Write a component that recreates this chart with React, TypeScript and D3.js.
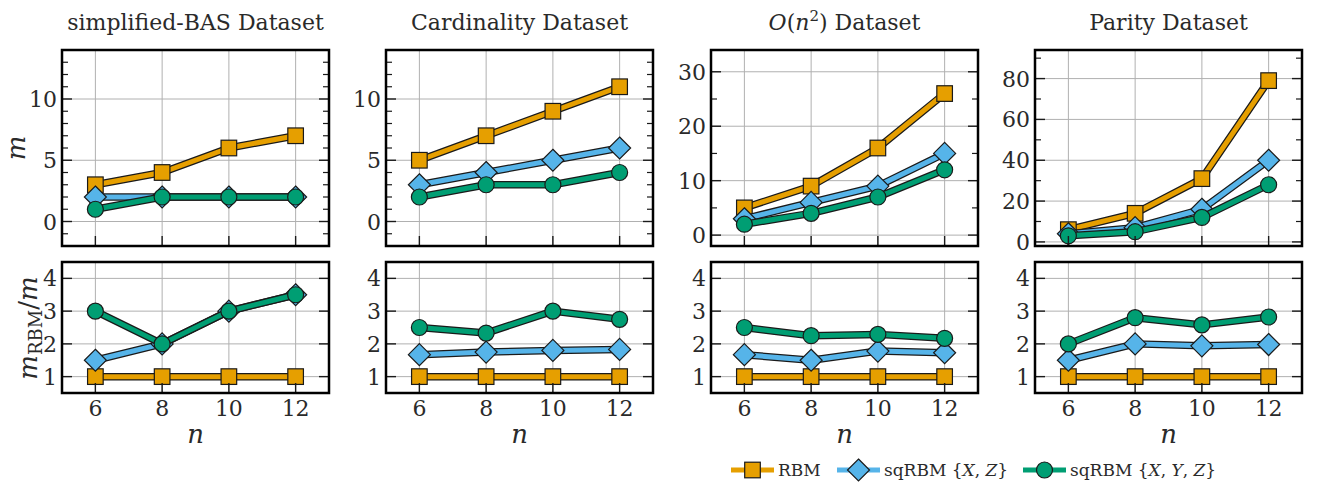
import * as d3 from "d3"
import { useEffect, useRef } from "react"

// n on the x axis, shared by every panel
const nValues = [6, 8, 10, 12]

const titles = ["simplified-BAS", "Cardinality", "O(n2)", "Parity"]

// number of hidden units m (top row)
const basRBM = [3, 4, 6, 7]
const basXZ = [2, 2, 2, 2]
const basXYZ = [1, 2, 2, 2]
const cardRBM = [5, 7, 9, 11]
const cardXZ = [3, 4, 5, 6]
const cardXYZ = [2, 3, 3, 4]
const quadRBM = [5, 9, 16, 26]
const quadXZ = [3, 6, 9, 15]
const quadXYZ = [2, 4, 7, 12]
const parRBM = [6, 14, 31, 79]
const parXZ = [4, 7, 16, 40]
const parXYZ = [3, 5, 12, 28]

// ratio m_RBM / m (bottom row)
const ratioRBM = [1, 1, 1, 1]
const basRatioXZ = [1.5, 2, 3, 3.5]
const basRatioXYZ = [3, 2, 3, 3.5]
const cardRatioXZ = [1.67, 1.75, 1.8, 1.83]
const cardRatioXYZ = [2.5, 2.33, 3, 2.75]
const quadRatioXZ = [1.67, 1.5, 1.78, 1.73]
const quadRatioXYZ = [2.5, 2.25, 2.29, 2.17]
const parRatioXZ = [1.5, 2, 1.94, 1.98]
const parRatioXYZ = [2, 2.8, 2.58, 2.82]

// axis ticks
const topDomains: [number, number][] = [[-2, 14], [-2, 14], [-2, 34], [-2, 94]]
const topMajorTicks = [[0, 5, 10], [0, 5, 10], [0, 10, 20, 30], [0, 20, 40, 60, 80]]
const topMinorStep = [1, 1, 5, 10]
const bottomTicks = [1, 2, 3, 4]

const seriesNames = ["RBM", "sqRBM {X, Z}", "sqRBM {X, Y, Z}"]
const colors = ["#E69F00", "#56B4E9", "#009E73"]
const shapes = ["square", "diamond", "circle"]

const topData = [
    [basRBM, basXZ, basXYZ],
    [cardRBM, cardXZ, cardXYZ],
    [quadRBM, quadXZ, quadXYZ],
    [parRBM, parXZ, parXYZ],
]
const bottomData = [
    [ratioRBM, basRatioXZ, basRatioXYZ],
    [ratioRBM, cardRatioXZ, cardRatioXYZ],
    [ratioRBM, quadRatioXZ, quadRatioXYZ],
    [ratioRBM, parRatioXZ, parRatioXYZ],
]

const FONT = "DejaVu Serif"
const EDGE = "#1a1a1a"
const INK = "#2a2a2a"

function drawMarker(g: any, shape: string, x: number, y: number, fill: string) {
    if (shape === "square") {
        g.append("rect")
            .attr("x", x - 7.8).attr("y", y - 7.8)
            .attr("width", 15.6).attr("height", 15.6)
            .attr("fill", fill).attr("stroke", EDGE).attr("stroke-width", 1.2)
    } else if (shape === "diamond") {
        const r = 11
        g.append("path")
            .attr("d", `M${x},${y - r}L${x + r},${y}L${x},${y + r}L${x - r},${y}Z`)
            .attr("fill", fill).attr("stroke", EDGE).attr("stroke-width", 1.2)
    } else {
        g.append("circle")
            .attr("cx", x).attr("cy", y).attr("r", 8)
            .attr("fill", fill).attr("stroke", EDGE).attr("stroke-width", 1.2)
    }
}

function label(parent: any, x: number, y: number, size: number) {
    return parent.append("text").attr("x", x).attr("y", y)
        .style("font-family", FONT).attr("font-size", size).attr("fill", INK)
}

export default function App() {
    const svgRef = useRef<SVGSVGElement>(null)

    useEffect(() => {
        const width = 1321
        const height = 483
        const panelLefts = [62, 386, 711, 1035]
        const panelWidth = 267
        const topY0 = 50, topY1 = 246
        const botY0 = 262, botY1 = 393
        const majorLen = 10, minorLen = 6

        if (svgRef.current !== null) svgRef.current.innerHTML = ""
        const svg = d3.select(svgRef.current)
            .attr("width", width).attr("height", height)
            .attr("viewBox", [0, 0, width, height])

        svg.append("rect").attr("width", width).attr("height", height).attr("fill", "white")

        panelLefts.forEach((left, p) => {
            const right = left + panelWidth
            const x = d3.scaleLinear([5, 13], [left, right])
            const yTop = d3.scaleLinear(topDomains[p], [topY1, topY0])
            const yBot = d3.scaleLinear([0.5, 4.5], [botY1, botY0])

            const rows = [
                { y: yTop, y0: topY0, y1: topY1, data: topData[p], major: topMajorTicks[p], step: topMinorStep[p] },
                { y: yBot, y0: botY0, y1: botY1, data: bottomData[p], major: bottomTicks, step: 0 },
            ]

            rows.forEach(row => {
                const g = svg.append("g")
                // grid
                g.selectAll(null).data(nValues).join("line")
                    .attr("x1", d => x(d)).attr("x2", d => x(d))
                    .attr("y1", row.y0).attr("y2", row.y1)
                    .attr("stroke", "#b0b0b0").attr("stroke-width", 1)
                g.selectAll(null).data(row.major).join("line")
                    .attr("x1", left).attr("x2", right)
                    .attr("y1", d => row.y(d)).attr("y2", d => row.y(d))
                    .attr("stroke", "#b0b0b0").attr("stroke-width", 1)

                // series: dark outline under a coloured stroke, then markers
                row.data.forEach((vals, s) => {
                    const pts: [number, number][] = vals.map((v, i) => [x(nValues[i]), row.y(v)])
                    const line = d3.line()
                    g.append("path").attr("d", line(pts))
                        .attr("fill", "none").attr("stroke", EDGE).attr("stroke-width", 7.5)
                        .attr("stroke-linejoin", "round")
                    g.append("path").attr("d", line(pts))
                        .attr("fill", "none").attr("stroke", colors[s]).attr("stroke-width", 5)
                        .attr("stroke-linejoin", "round")
                    pts.forEach(([px, py]) => drawMarker(g, shapes[s], px, py, colors[s]))
                })

                // ticks
                const dom = row.y.domain()
                if (row.step > 0) {
                    const minors = d3.range(Math.ceil(dom[0] / row.step) * row.step, dom[1] + 1e-9, row.step)
                        .filter(v => !row.major.includes(v))
                    minors.forEach(v => {
                        g.append("line").attr("x1", left).attr("x2", left + minorLen)
                            .attr("y1", row.y(v)).attr("y2", row.y(v)).attr("stroke", EDGE).attr("stroke-width", 1.2)
                        g.append("line").attr("x1", right).attr("x2", right - minorLen)
                            .attr("y1", row.y(v)).attr("y2", row.y(v)).attr("stroke", EDGE).attr("stroke-width", 1.2)
                    })
                }
                row.major.forEach(v => {
                    g.append("line").attr("x1", left).attr("x2", left + majorLen)
                        .attr("y1", row.y(v)).attr("y2", row.y(v)).attr("stroke", EDGE).attr("stroke-width", 1.4)
                    g.append("line").attr("x1", right).attr("x2", right - majorLen)
                        .attr("y1", row.y(v)).attr("y2", row.y(v)).attr("stroke", EDGE).attr("stroke-width", 1.4)
                    label(g, left - 5, row.y(v) + 8, 22).attr("text-anchor", "end").text(v)
                })
                nValues.forEach(v => {
                    g.append("line").attr("x1", x(v)).attr("x2", x(v))
                        .attr("y1", row.y1).attr("y2", row.y1 - majorLen).attr("stroke", EDGE).attr("stroke-width", 1.4)
                })

                // frame
                g.append("rect").attr("x", left).attr("y", row.y0)
                    .attr("width", panelWidth).attr("height", row.y1 - row.y0)
                    .attr("fill", "none").attr("stroke", "black").attr("stroke-width", 2.5)
            })

            // x tick labels and label
            nValues.forEach(v => {
                label(svg, x(v), 416, 22).attr("text-anchor", "middle").text(v)
            })
            label(svg, left + panelWidth / 2, 443, 26)
                .attr("text-anchor", "middle").attr("font-style", "italic").text("n")

            // title
            const t = label(svg, left + panelWidth / 2, 30, 22).attr("text-anchor", "middle")
            if (titles[p] === "O(n2)") {
                t.append("tspan").attr("font-style", "italic").text("O")
                t.append("tspan").text("(")
                t.append("tspan").attr("font-style", "italic").text("n")
                t.append("tspan").attr("font-size", 15).attr("dy", -9).text("2")
                t.append("tspan").attr("dy", 9).text(") Dataset")
            } else {
                t.text(`${titles[p]} Dataset`)
            }
        })

        // y labels
        label(svg, 0, 0, 26).attr("transform", "translate(25,148) rotate(-90)")
            .attr("text-anchor", "middle").attr("font-style", "italic").text("m")
        const yl = label(svg, 0, 0, 26).attr("transform", "translate(37,328) rotate(-90)")
            .attr("text-anchor", "middle")
        yl.append("tspan").attr("font-style", "italic").text("m")
        yl.append("tspan").attr("font-size", 18).attr("dy", 5).text("RBM")
        yl.append("tspan").attr("dy", -5).text("/")
        yl.append("tspan").attr("font-style", "italic").text("m")

        // legend
        const legendY = 470
        const legendStarts = [731, 837, 1023]
        seriesNames.forEach((name, s) => {
            const lx = legendStarts[s]
            const g = svg.append("g")
            g.append("line").attr("x1", lx).attr("x2", lx + 43)
                .attr("y1", legendY).attr("y2", legendY)
                .attr("stroke", colors[s]).attr("stroke-width", 5)
            drawMarker(g, shapes[s], lx + 21.5, legendY, colors[s])
            const t = label(g, lx + 47, legendY + 6, 17)
            if (s === 0) {
                t.text(name)
            } else {
                t.append("tspan").text("sqRBM {")
                const vars = s === 1 ? ["X", "Z"] : ["X", "Y", "Z"]
                vars.forEach((v, i) => {
                    t.append("tspan").attr("font-style", "italic").text(v)
                    if (i < vars.length - 1) t.append("tspan").text(", ")
                })
                t.append("tspan").text("}")
            }
        })
    }, [])

    return <svg ref={svgRef} style={{ position: "absolute", left: 0, top: 0 }}></svg>
}
